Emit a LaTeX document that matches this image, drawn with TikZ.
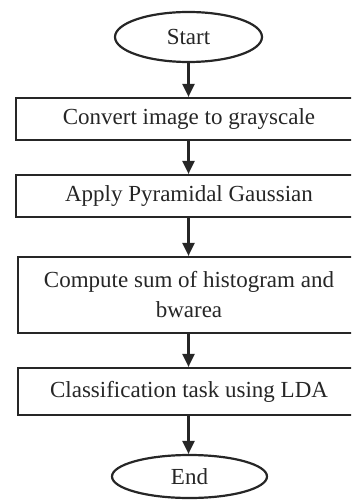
\documentclass[tikz,border=0pt]{standalone}
\usepackage{fontspec}
\setmainfont{Liberation Serif}
\usetikzlibrary{shapes.geometric,arrows.meta}
\tikzset{
  every node/.style={font=\fontsize{23}{30}\selectfont, text=black!85},
  stepbox/.style={draw=black!85, line width=2.2pt, rectangle, inner sep=0pt, align=center},
  terminal/.style={draw=black!85, line width=2.2pt, ellipse, inner sep=0pt},
  flow/.style={draw=black!85, line width=2.2pt, -{Triangle[length=13pt,width=12pt]}}
}
\begin{document}
\begin{tikzpicture}[x=1pt,y=-1pt]
  \useasboundingbox (0,0) rectangle (351,500);
  \clip (0,0) rectangle (351,500);
  \node[terminal, minimum width=147pt, minimum height=50pt] (start) at (188.5,37) {Start};
  \node[stepbox, minimum width=346pt, minimum height=42pt] (gray) at (189,119) {Convert image to grayscale};
  \node[stepbox, minimum width=346pt, minimum height=42pt] (gauss) at (189,196) {Apply Pyramidal Gaussian};
  \node[stepbox, minimum width=342pt, minimum height=76pt] (hist) at (189,295) {Compute sum of histogram and\\bwarea};
  \node[stepbox, minimum width=342pt, minimum height=47pt] (lda) at (189,391.5) {Classification task using LDA};
  \node[terminal, minimum width=155pt, minimum height=43pt] (end) at (189.5,476.5) {End};
  \draw[flow] (start.south) -- (gray.north -| start.south);
  \draw[flow] (gray.south -| start.south) -- (gauss.north -| start.south);
  \draw[flow] (gauss.south -| start.south) -- (hist.north -| start.south);
  \draw[flow] (hist.south -| start.south) -- (lda.north -| start.south);
  \draw[flow] (lda.south -| start.south) -- (end.north -| start.south);
\end{tikzpicture}
\end{document}
